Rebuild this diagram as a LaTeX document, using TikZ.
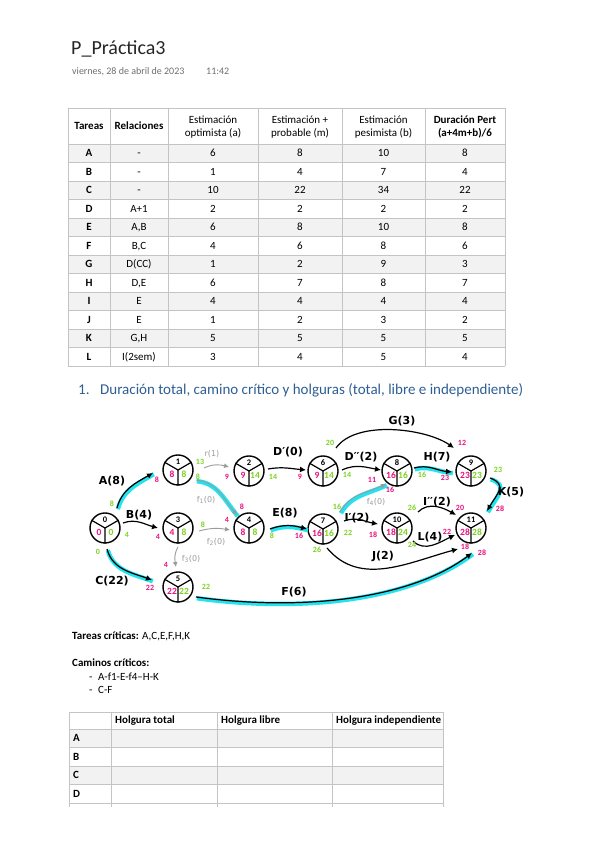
\documentclass[tikz,border=0pt]{standalone}
\usepackage{fontspec}
\setmainfont{Carlito}
\newfontfamily\manuscrita{DejaVu Sans}
\usepackage{xcolor}
\usepackage{tikz}
\usetikzlibrary{arrows.meta,positioning}
\definecolor{rosa}{RGB}{232,18,128}
\definecolor{verde}{RGB}{124,210,32}
\definecolor{resalte}{RGB}{36,226,238}
\definecolor{gris}{RGB}{155,155,155}
\definecolor{borde}{RGB}{196,196,196}
\definecolor{fondo}{RGB}{242,242,242}
\definecolor{azul}{RGB}{46,94,148}
\definecolor{fecha}{RGB}{110,110,110}
\tikzset{
    suceso/.style={circle, draw, line width=1.4pt, minimum size=30pt, inner sep=0pt},
    numsuceso/.style={font=\bfseries\fontsize{8.5}{8.5}\selectfont, inner sep=0pt},
    tempranoin/.style={font=\bfseries\fontsize{9.5}{9.5}\selectfont, text=rosa, inner sep=0pt},
    tardioin/.style={font=\bfseries\fontsize{9.5}{9.5}\selectfont, text=verde, inner sep=0pt},
    flecha/.style={-{Latex[length=6pt,width=6pt]}, line width=1.2pt},
    ficticia/.style={-{Latex[length=5pt,width=5pt]}, draw=gris, line width=0.9pt},
    critica/.style={preaction={draw=resalte, line width=4.5pt, -, transform canvas={xshift=0.8pt, yshift=-1.2pt}}},
    actividad/.style={font=\manuscrita\bfseries\fontsize{11}{11}\selectfont, inner sep=0pt},
    actficticia/.style={font=\manuscrita\fontsize{8}{8}\selectfont, text=gris, inner sep=0pt},
    verdenum/.style={font=\bfseries\fontsize{8}{8}\selectfont, text=verde, inner sep=0pt},
    rosanum/.style={font=\bfseries\fontsize{8}{8}\selectfont, text=rosa, inner sep=0pt},
    celda/.style={font=\fontsize{11}{13}\selectfont, inner sep=0pt, align=center, text height=7pt, text depth=0pt},
    cabecera/.style={celda, font=\bfseries\fontsize{11}{13}\selectfont},
    texto/.style={font=\fontsize{11}{13}\selectfont, inner sep=0pt, anchor=west, text height=7pt, text depth=0pt},
    rejilla/.style={draw=borde, line width=0.9pt}
}
% suceso: nombre, posicion, numero, fecha temprana, fecha tardia
\newcommand{\suceso}[5]{%
    \node[suceso] (#1) at (#2) {};
    \draw[line width=1.2pt] (#1.150) -- (#1.center) -- (#1.30) (#1.center) -- (#1.270);
    \node[numsuceso] (#1n) at ([yshift=8pt]#1.center) {#3};
    \node[tempranoin] (#1t) at ([xshift=-6pt, yshift=-4pt]#1.center) {#4};
    \node[tardioin] (#1l) at ([xshift=6pt, yshift=-4pt]#1.center) {#5};
}

\begin{document}
\begin{tikzpicture}[x=1pt, y=1pt]
    \useasboundingbox (0,0) rectangle (599,848);

    % cabecera de la pagina
    \node[texto, font=\fontsize{20}{20}\selectfont, text=black!85] (titulo) at (71,797) {P\_Práctica3};
    \node[texto, font=\fontsize{10}{10}\selectfont, text=fecha] (fecha) at (72,777) {viernes, 28 de abril de 2023};
    \node[texto, font=\fontsize{10}{10}\selectfont, text=fecha] (hora) at (206,777) {11:42};

    % tabla de estimaciones
    \foreach \f in {1,3,...,11}
        \fill[fondo] (68,{704-(\f-1)*18.5}) rectangle (505,{704-\f*18.5});
    \foreach \f in {0,...,12}
        \draw[rejilla] (68,{704-\f*18.5}) -- (505,{704-\f*18.5});
    \draw[rejilla] (68,740) -- (505,740);
    \foreach \x in {68,110,168,258,342,425,505}
        \draw[rejilla] (\x,740) -- (\x,482);
    \node[cabecera] (hTareas) at (89,722) {Tareas};
    \node[cabecera] (hRelaciones) at (139,722) {Relaciones};
    \node[celda] (hOptimista) at (213,715) {Estimación\\optimista (a)};
    \node[celda] (hProbable) at (300,715) {Estimación +\\probable (m)};
    \node[celda] (hPesimista) at (383.5,715) {Estimación\\pesimista (b)};
    \node[cabecera] (hPert) at (465,715) {Duración Pert\\(a+4m+b)/6};
    \foreach \tarea/\rel/\opt/\pro/\pes/\dur [count=\i] in {A/-/6/8/10/8, B/-/1/4/7/4, C/-/10/22/34/22,
        D/A+1/2/2/2/2, E/{A,B}/6/8/10/8, F/{B,C}/4/6/8/6, G/D(CC)/1/2/9/3, H/{D,E}/6/7/8/7,
        I/E/4/4/4/4, J/E/1/2/3/2, K/{G,H}/5/5/5/5, L/I(2sem)/3/4/5/4}{
        \node[cabecera] (t\i) at (89,{704-(\i-0.5)*18.5}) {\tarea};
        \node[celda] (r\i) at (139,{704-(\i-0.5)*18.5}) {\rel};
        \node[celda] (a\i) at (213,{704-(\i-0.5)*18.5}) {\opt};
        \node[celda] (m\i) at (300,{704-(\i-0.5)*18.5}) {\pro};
        \node[celda] (b\i) at (383.5,{704-(\i-0.5)*18.5}) {\pes};
        \node[celda] (d\i) at (465,{704-(\i-0.5)*18.5}) {\dur};
    }

    % apartado 1
    \node[texto, font=\fontsize{15}{15}\selectfont, text=azul] (num) at (78,457) {1.};
    \node[texto, font=\fontsize{15}{15}\selectfont, text=azul] (apartado) at (100,457)
        {Duración total, camino crítico y holguras (total, libre e independiente)};

    % red PERT
    \suceso{n0}{105,320}{0}{0}{0}
    \suceso{n1}{178,378}{1}{8}{8}
    \suceso{n2}{249,377}{2}{9}{14}
    \suceso{n3}{178,320}{3}{4}{8}
    \suceso{n4}{249,320}{4}{8}{8}
    \suceso{n5}{178,261}{5}{22}{22}
    \suceso{n6}{323,377}{6}{9}{14}
    \suceso{n7}{323,319}{7}{16}{16}
    \suceso{n8}{397,377}{8}{16}{16}
    \suceso{n9}{471,377}{9}{23}{23}
    \suceso{n10}{397,320}{10}{18}{24}
    \suceso{n11}{471,320}{11}{28}{28}

    \draw[flecha, critica] ([shift={(12,20)}]n0.center) to[out=75, in=210] ([shift={(-25,-3)}]n1.center);
    \draw[flecha] ([shift={(18,5)}]n0.center) to[out=20, in=165] ([shift={(-20,0)}]n3.center);
    \draw[flecha, critica] ([shift={(2,-21)}]n0.center) to[out=-75, in=160] ([shift={(-26,7)}]n5.center);
    \draw[ficticia] ([shift={(26,2)}]n1.center) to[out=25, in=165] ([shift={(-20,4)}]n2.center);
    \draw[ficticia, critica] ([shift={(18,-10)}]n1.center) to[out=-5, in=130] ([shift={(-12,13)}]n4.center);
    \draw[ficticia] ([shift={(21,-3)}]n3.center) to[out=15, in=170] ([shift={(-19,-2)}]n4.center);
    \draw[ficticia] ([shift={(0,-19)}]n3.center) to[out=-120, in=100] ([shift={(-2,20)}]n5.center);
    \draw[flecha] ([shift={(19,2)}]n2.center) to[out=10, in=175] ([shift={(-17,1)}]n6.center);
    \draw[flecha, critica] ([shift={(21,-1)}]n4.center) to[out=20, in=165] ([shift={(-16,0)}]n7.center);
    \draw[flecha] ([shift={(19,1)}]n6.center) to[out=25, in=170] ([shift={(-16,1)}]n8.center);
    \draw[flecha] ([shift={(13,23)}]n6.center) to[out=55, in=145, looseness=0.75] ([shift={(-17,23)}]n9.center);
    \draw[ficticia, critica] ([shift={(17,17)}]n7.center) to[out=60, in=205] ([shift={(-11,-13)}]n8.center);
    \draw[flecha, critica] ([shift={(17,3)}]n8.center) to[out=15, in=175] ([shift={(-19,-1)}]n9.center);
    \draw[flecha] ([shift={(21,8)}]n7.center) to[out=20, in=170] ([shift={(-19,4)}]n10.center);
    \draw[flecha] ([shift={(21,16)}]n10.center) to[out=45, in=150] ([shift={(-15,13)}]n11.center);
    \draw[flecha] ([shift={(16,-13)}]n10.center) to[out=-45, in=205] ([shift={(-16,-7)}]n11.center);
    \draw[flecha] ([shift={(4,-19)}]n7.center) to[out=-50, in=195] ([shift={(-13,-21)}]n11.center);
    \draw[flecha, critica] ([shift={(19,-7)}]n9.center) to[out=-20, in=60, looseness=1.5] ([shift={(16,17)}]n11.center);
    \draw[flecha, critica] ([shift={(18,-10)}]n5.center) .. controls +(110,-15) and +(-60,-45) .. ([shift={(1,-25)}]n11.center);

    % actividades
    \node[actividad] (lA) at (112,367) {A(8)};
    \node[actividad] (lB) at (139,333) {B(4)};
    \node[actividad] (lC) at (112,267) {C(22)};
    \node[actficticia] (lR) at (212,394) {r(1)};
    \node[actficticia] (lF1) at (206,348) {f\textsubscript{1}(0)};
    \node[actficticia] (lF2) at (216,306) {f\textsubscript{2}(0)};
    \node[actficticia] (lF3) at (191,289) {f\textsubscript{3}(0)};
    \node[actividad] (lDa) at (288,396) {D\char"2032(0)};
    \node[actividad] (lE) at (285,335) {E(8)};
    \node[actividad] (lDb) at (361,391) {D\char"2032\char"2032(2)};
    \node[actividad] (lG) at (402,427) {G(3)};
    \node[actficticia] (lF4) at (376,346) {f\textsubscript{4}(0)};
    \node[actividad] (lH) at (437,391) {H(7)};
    \node[actividad] (lIa) at (357,330) {I\char"2032(2)};
    \node[actividad] (lIb) at (437,346) {I\char"2032\char"2032(2)};
    \node[actividad] (lL) at (430,311) {L(4)};
    \node[actividad] (lJ) at (383,292) {J(2)};
    \node[actividad] (lK) at (511,356) {K(5)};
    \node[actividad] (lF) at (294,256) {F(6)};

    % fechas junto a las flechas
    \foreach \nombre/\pos/\valor in {gA/{112,344}/8, gB/{127,313}/4, gC/{98,296}/0, gR/{200,386}/13,
        gF1/{198,371}/8, gF2/{203,323}/8, gDa/{273,371}/14, gE/{272,312}/8, gDb/{347,373}/14,
        gG/{330,405}/20, gF4/{337,341}/16, gH/{422,373}/16, gIa/{348,315}/22, gIb/{412,340}/26,
        gL/{412,303}/24, gJ/{317,298}/26, gK/{498,378}/23, gF/{206,261}/22}
        \node[verdenum] (\nombre) at (\pos) {\valor};
    \foreach \nombre/\pos/\valor in {pA/{157,368}/8, pB/{158,311}/4, pC/{150,260}/22, pR/{227,371}/9,
        pF1/{242,341}/8, pF2/{227,328}/4, pF3/{166,283}/4, pDa/{300,371}/9, pE/{299,312}/16,
        pDb/{372,368}/11, pG/{462,405}/12, pF4/{390,358}/16, pH/{445,370}/23, pIa/{373,313}/18,
        pIb/{460,340}/20, pL/{447,316}/22, pJ/{465,301}/18, pK/{500,339}/28, pF/{482,295}/28}
        \node[rosanum] (\nombre) at (\pos) {\valor};

    % conclusiones
    \node[texto] (criticas) at (72,212) {\textbf{Tareas críticas:} A,C,E,F,H,K};
    \node[texto] (caminos) at (72,185) {\textbf{Caminos críticos:}};
    \node[texto] (guion1) at (89,171) {-};
    \node[texto] (camino1) at (98,171) {A-f1-E-f4--H-K};
    \node[texto] (guion2) at (89,158) {-};
    \node[texto] (camino2) at (98,158) {C-F};

    % tabla de holguras
    \fill[fondo] (69,119) rectangle (443,100.5);
    \fill[fondo] (69,82) rectangle (443,63.5);
    \foreach \y in {136,119,100.5,82,63.5,45}
        \draw[rejilla] (69,\y) -- (443,\y);
    \foreach \x in {69,111,217,332,443}
        \draw[rejilla] (\x,136) -- (\x,41);
    \node[cabecera, anchor=west] (hTotal) at (115,127.5) {Holgura total};
    \node[cabecera, anchor=west] (hLibre) at (221,127.5) {Holgura libre};
    \node[cabecera, anchor=west] (hIndep) at (336,127.5) {Holgura independiente};
    \foreach \tarea [count=\i] in {A,B,C,D}
        \node[cabecera, anchor=west] (h\tarea) at (73,{119-(\i-0.5)*18.5}) {\tarea};
\end{tikzpicture}
\end{document}
